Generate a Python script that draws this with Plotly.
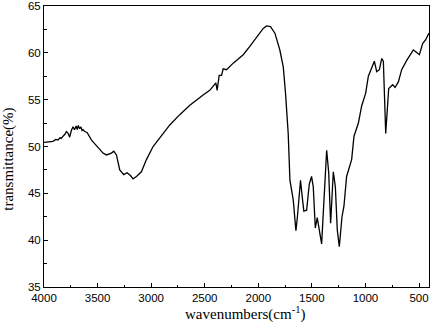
import plotly.graph_objects as go

wavenumber = [4000, 3960, 3916, 3890, 3869, 3850, 3840, 3822, 3805, 3791, 3775, 3760, 3745, 3729, 3715, 3700, 3690, 3680, 3667, 3655, 3645, 3636, 3620, 3598, 3580, 3558, 3511, 3449, 3418, 3371, 3349, 3324, 3293, 3256, 3225, 3193, 3169, 3137, 3091, 3044, 2982, 2888, 2826, 2733, 2639, 2515, 2453, 2396, 2384, 2365, 2343, 2328, 2297, 2234, 2141, 2079, 2016, 1954, 1923, 1886, 1845, 1799, 1767, 1746, 1721, 1705, 1674, 1649, 1635, 1606, 1587, 1575, 1549, 1524, 1503, 1487, 1468, 1450, 1431, 1409, 1387, 1362, 1343, 1325, 1300, 1281, 1263, 1244, 1219, 1201, 1176, 1151, 1129, 1107, 1066, 1036, 998, 973, 942, 917, 895, 870, 848, 833, 811, 795, 783, 746, 724, 693, 662, 615, 553, 528, 497, 466, 438, 407]
transmittance = [50.43, 50.5, 50.55, 50.75, 50.7, 50.95, 50.85, 51.1, 51.3, 51.6, 51.4, 51.0, 51.7, 52.1, 51.8, 52.2, 51.8, 52.25, 51.9, 52.1, 51.7, 51.8, 51.6, 51.5, 51.1, 50.7, 50.1, 49.3, 49.1, 49.3, 49.5, 49.1, 47.5, 47.0, 47.2, 46.9, 46.55, 46.8, 47.3, 48.6, 50.0, 51.4, 52.3, 53.4, 54.4, 55.5, 56.0, 56.8, 56.0, 57.6, 57.6, 58.3, 58.2, 58.9, 59.8, 60.7, 61.7, 62.6, 62.87, 62.8, 62.1, 60.3, 58.5, 55.7, 51.4, 46.4, 44.3, 41.0, 42.5, 46.4, 44.3, 43.1, 43.2, 46.0, 46.8, 45.7, 41.3, 42.4, 41.1, 39.6, 44.3, 49.6, 47.2, 41.8, 47.3, 45.7, 41.1, 39.3, 42.5, 43.6, 46.8, 47.9, 48.6, 51.1, 52.5, 54.3, 55.7, 57.5, 58.5, 59.1, 58.0, 58.2, 59.4, 59.1, 51.4, 55.0, 56.2, 56.6, 56.3, 56.9, 58.2, 59.2, 60.3, 60.1, 59.8, 61.0, 61.4, 62.1]

x_ticks = [4000, 3500, 3000, 2500, 2000, 1500, 1000, 500]
y_ticks = [35, 40, 45, 50, 55, 60, 65]
x_title = "wavenumbers(cm<sup>-1</sup>)"
y_title = "transmittance(%)"

fig = go.Figure()
fig.add_trace(go.Scatter(x=wavenumber, y=transmittance, mode="lines",
                         line=dict(color="black", width=1.3), showlegend=False))

tickfont = dict(family="Liberation Sans, Arial", size=11.5, color="black")
titlefont = dict(family="Liberation Serif, Times New Roman", size=15, color="black")

fig.update_layout(
    width=431, height=325,
    margin=dict(l=44, r=2, t=6, b=37.5),
    paper_bgcolor="white", plot_bgcolor="white",
    xaxis=dict(range=[4000, 407], tickvals=x_ticks, ticktext=[str(v) for v in x_ticks],
               automargin=False, ticklabeloverflow="allow",
               showline=True, linecolor="black", linewidth=1, mirror=True,
               ticks="inside", ticklen=4, tickcolor="black", tickwidth=1,
               minor=dict(dtick=250, tick0=0, ticks="inside", ticklen=2.5, tickcolor="black"),
               showgrid=False, zeroline=False, tickfont=tickfont),
    yaxis=dict(range=[35, 65], tickvals=y_ticks, automargin=False, ticklabeloverflow="allow",
               showline=True, linecolor="black", linewidth=1, mirror=True,
               ticks="inside", ticklen=4, tickcolor="black", tickwidth=1,
               minor=dict(dtick=2.5, tick0=35, ticks="inside", ticklen=2.5, tickcolor="black"),
               showgrid=False, zeroline=False, tickfont=tickfont),
    annotations=[
        dict(text=x_title, xref="paper", yref="paper", x=(245 - 44) / 385, y=-(314 - 287.5) / 281.5,
             xanchor="center", yanchor="middle", showarrow=False, font=titlefont),
        dict(text=y_title, xref="paper", yref="paper", x=-(44 - 9) / 385, y=(287.5 - 160) / 281.5,
             xanchor="center", yanchor="middle", showarrow=False, textangle=-90, font=titlefont),
    ],
)

fig.write_html("out.html", config={"displayModeBar": False},
               post_script="document.body.style.margin='0';document.body.style.overflow='hidden';")
